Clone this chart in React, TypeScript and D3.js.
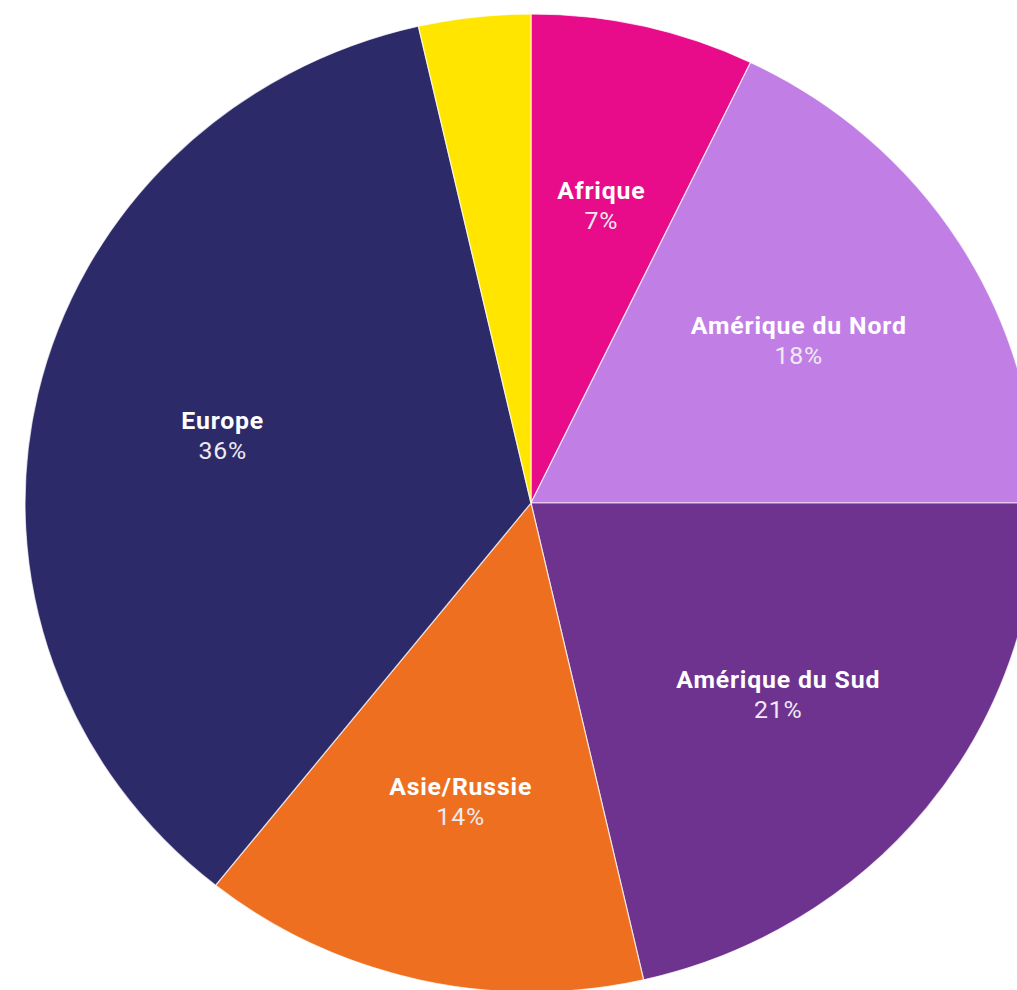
import React from "react";
import * as d3 from "d3";

const categories = ["Afrique", "Amérique du Nord", "Amérique du Sud", "Asie/Russie", "Europe", "Océanie"];
const values = [2, 5, 6, 4, 10, 1];
const colors = ["#E80B8A", "#C17FE6", "#6E338F", "#EE6F1F", "#2D2A6A", "#FFE500"];
const showLabel = [true, true, true, true, true, false];

const W = 1017;
const H = 990;
const cx = 531;
const cy = 503;
const R = 489;
const sx = 506 / 489;

export default function App() {
  const total = d3.sum(values);
  const pie = d3.pie<number>().sort(null).value((d) => d);
  const arcs = pie(values);
  const arc = d3.arc<d3.PieArcDatum<number>>().innerRadius(0).outerRadius(R);
  const labelArc = d3.arc<d3.PieArcDatum<number>>().innerRadius(R * 0.625).outerRadius(R * 0.625);
  const fmt = d3.format(".0%");

  return (
    <svg
      width={W}
      height={H}
      style={{ position: "absolute", left: 0, top: 0, background: "#fff" }}
    >
      <g transform={`translate(${cx},${cy}) scale(${sx},1)`}>
        {arcs.map((a, i) => (
          <path
            key={i}
            d={arc(a) || ""}
            fill={colors[i]}
            stroke="rgba(255,255,255,0.7)"
            strokeWidth={1.2}
          />
        ))}
        {arcs.map((a, i) => {
          if (!showLabel[i]) return null;
          const [x, y] = labelArc.centroid(a);
          return (
            <g key={"l" + i} transform={`translate(${x},${y})`}>
              <text
                textAnchor="middle"
                y={-6}
                fontFamily="Roboto, 'Noto Sans', sans-serif"
                fontWeight={700}
                fontSize={24}
                letterSpacing={0.8}
                fill="#fff"
              >
                {categories[i]}
              </text>
              <text
                textAnchor="middle"
                y={24}
                fontFamily="Roboto, 'Noto Sans', sans-serif"
                fontWeight={400}
                fontSize={24}
                letterSpacing={0.8}
                fill="#eeeaf2"
              >
                {fmt(values[i] / total)}
              </text>
            </g>
          );
        })}
      </g>
    </svg>
  );
}
